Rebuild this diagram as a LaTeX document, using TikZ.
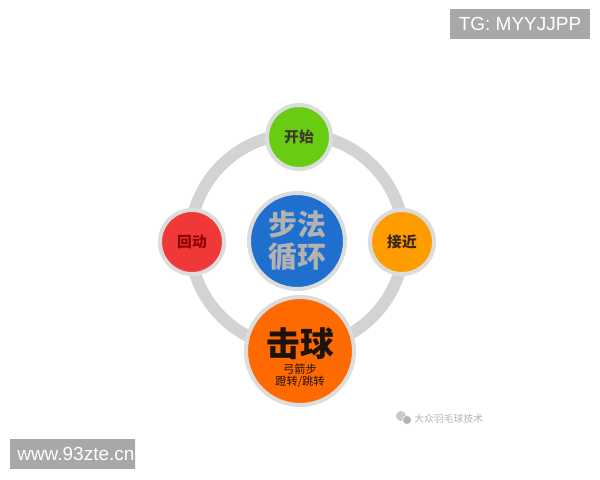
\documentclass[tikz,border=0pt]{standalone}
\usepackage{fontspec}
\setmainfont{Liberation Sans}
\newfontfamily\cjk{Noto Sans CJK SC}
\usetikzlibrary{positioning}
\definecolor{ringgray}{HTML}{D3D3D3}
\definecolor{rimgray}{HTML}{DCDCDC}
\definecolor{hubblue}{HTML}{1F6FCF}
\definecolor{hubtext}{HTML}{B2B2B2}
\definecolor{startgreen}{HTML}{67CC12}
\definecolor{neargold}{HTML}{FF9C00}
\definecolor{backred}{HTML}{F03838}
\definecolor{strikeorange}{HTML}{FF6A00}
\definecolor{markgray}{HTML}{A8A8A8}
\definecolor{notegray}{HTML}{B4B4B4}
\begin{document}
\begin{tikzpicture}[x = 0.025cm, y = -0.025cm, align = center,
    phase/.style = { circle, draw = rimgray, line width = 1mm, minimum size = 1.6cm, inner sep = 0pt, font = \cjk\bfseries\fontsize{10.5}{12}\selectfont },
    ring/.style = { draw = ringgray, line width = 3mm },
    markbox/.style = { fill = markgray, text = white, font = \fontsize{13.5}{16}\selectfont, minimum height = 0.75cm, inner sep = 0pt }]
				\useasboundingbox[fill = white] (0,0) rectangle (600,480);
				% centre and ring
				\node[phase, fill = hubblue, minimum size = 2.4cm, text = hubtext, font = \cjk\bfseries\fontsize{20.5}{23}\selectfont] (hub) at (297,241) {步法\\循环};
				\draw[ring] (hub.center) circle[radius = 107];
				% the four phases
				\node[phase, fill = startgreen, text = black!75!olive] (start) at (299,137) {开始};
				\node[phase, fill = neargold, text = black!70!brown] (near) at (402,242) {接近};
				\node[phase, fill = backred, text = black!45!red] (back) at (192,242) {回动};
				\node[phase, fill = strikeorange, minimum size = 2.7cm] (strike) at (300,351) {};
				\node[font = \cjk\bfseries\fontsize{24}{25}\selectfont, text = black!85!brown, inner sep = 0pt] (strikename) at (300,344) {击球};
				\node[font = \cjk\fontsize{8}{8.7}\selectfont, text = black!85!brown, inner sep = 0pt] (strikeway) at (300,376) {弓箭步\\蹬转/跳转};
				% watermarks
				\node[markbox, minimum width = 3.5cm] (tg) at (520,24) {TG: MYYJJPP};
				\begin{scope}
					\clip (10,439) rectangle (135,469);
					\node[markbox, anchor = west, inner xsep = 5] (site) at (10,454) {www.93zte.cn};
				\end{scope}
				\fill[notegray!70] (401,416) circle[radius = 5];
				\fill[notegray, draw = white, line width = 0.4pt] (407,420) circle[radius = 4.5];
				\node[text = notegray, font = \cjk\fontsize{7}{8}\selectfont, anchor = west, inner sep = 0pt] (account) at (414,419) {大众羽毛球技术};
			\end{tikzpicture}
\end{document}
